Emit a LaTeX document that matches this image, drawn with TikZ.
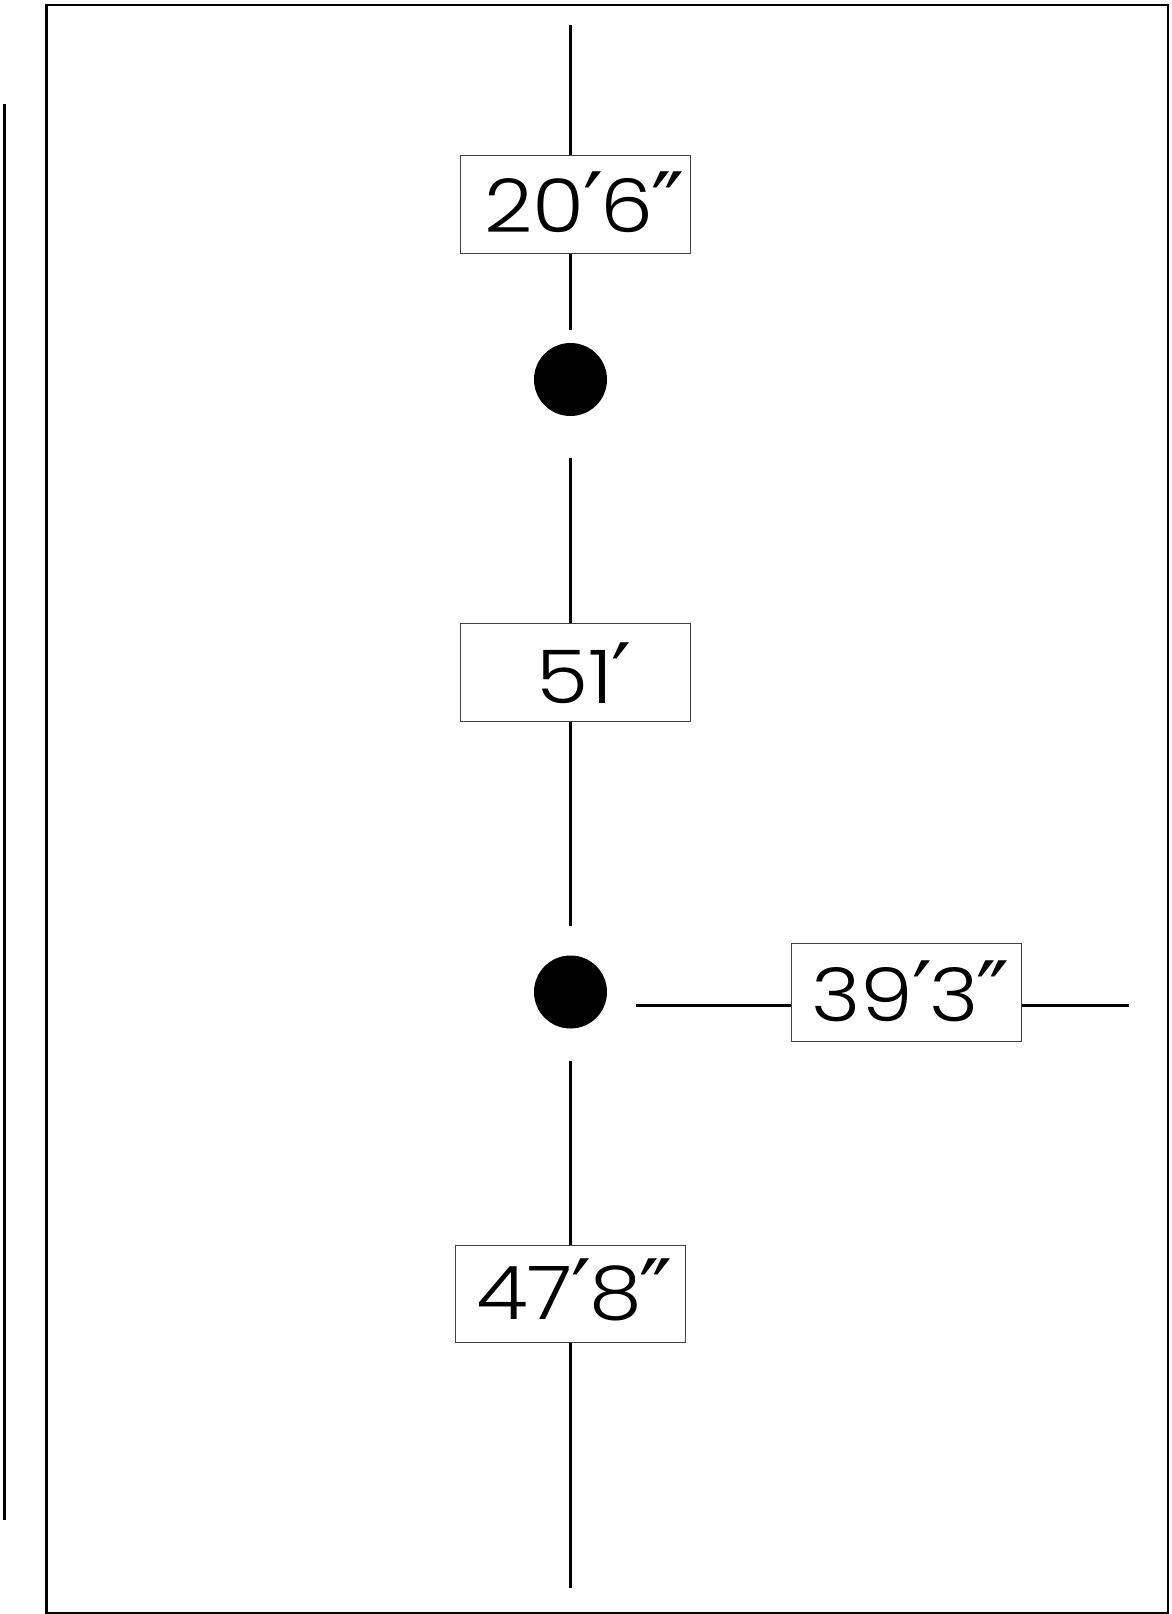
\documentclass[tikz,border=0pt]{standalone}
\usepackage{fontspec}
\setmainfont{Poppins Light}[FakeStretch=1.14]
\newfontfamily\primefont{DejaVu Sans}[Scale=1.2]
\newcommand{\pr}{{\primefont\kern-1pt\raisebox{-4pt}{′}\kern-3pt}}
\newcommand{\prr}{{\primefont\kern-2pt\raisebox{-4pt}{″}}}
\begin{document}
\begin{tikzpicture}[x=1pt,y=-1pt,
  conn/.style={draw=black,line width=2.6pt},
  frameline/.style={draw=black,line width=2.8pt},
  dimbox/.style={draw=black!75,line width=1.1pt,fill=white,rectangle,inner sep=0pt,minimum height=97.6pt,minimum width=230.4pt},
  dimtext/.style={inner sep=0pt,anchor=base west,font=\fontsize{74}{74}\selectfont},
  dot/.style={circle,fill=black,inner sep=0pt,minimum size=73pt}]
\useasboundingbox (0,0) rectangle (1171,1614);
\node[fill=white,minimum width=1171pt,minimum height=1614pt,inner sep=0pt] (bg) at (585.5,807) {};
\node[frameline,rectangle,inner sep=0pt,minimum width=1121.5pt,minimum height=1608pt] (frame) at (607.25,809) {};
\coordinate (sideA) at (4.5,104);
\coordinate (sideB) at (4.5,1520);
\draw[conn] (sideA) -- (sideB);
% centre column
\coordinate (t0) at (570.5,25);
\node[dimbox] (b1) at (575.5,204.5) {};
\coordinate (t1) at (570.5,330);
\node[dot] (d1) at (570.5,379.5) {};
\coordinate (t2) at (570.5,457.5);
\node[dimbox] (b2) at (575.5,672.5) {};
\coordinate (t3) at (570.5,925.5);
\node[dot] (d2) at (570.5,992) {};
\coordinate (t4) at (570.5,1061);
\node[dimbox] (b3) at (570.5,1294) {};
\coordinate (t5) at (570.5,1588);
\coordinate (h0) at (636,1005.3);
\node[dimbox] (b4) at (906.4,992.5) {};
\coordinate (h1) at (1129,1005.3);
\draw[conn] (t0) -- (t0 |- b1.north);
\draw[conn] (t0 |- b1.south) -- (t1);
\draw[conn] (t2) -- (t2 |- b2.north);
\draw[conn] (t2 |- b2.south) -- (t3);
\draw[conn] (t4) -- (t4 |- b3.north);
\draw[conn] (t4 |- b3.south) -- (t5);
\draw[conn] (h0) -- (h0 -| b4.west);
\draw[conn] (h0 -| b4.east) -- (h1);
\node[dimtext] (l1) at (484,232.5) {20\pr 6\prr};
\node[dimtext] (l2) at (536,703) {51\pr};
\node[dimtext] (l3) at (476,1319) {47\pr 8\prr};
\node[dimtext] (l4) at (811,1021.5) {39\pr 3\prr};
\end{tikzpicture}
\end{document}
